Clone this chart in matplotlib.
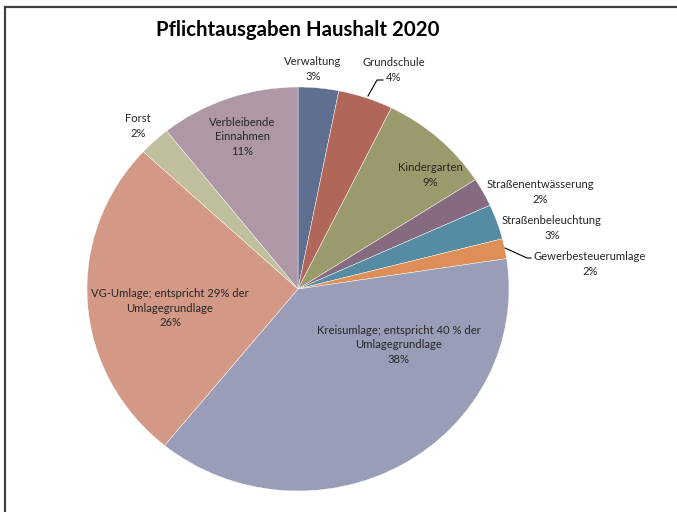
import matplotlib
matplotlib.use("Agg")
import matplotlib.pyplot as plt
from matplotlib.lines import Line2D

plt.rcParams['font.family'] = ['Lato', 'DejaVu Sans']

# share of mandatory expenses (percent, clockwise from 12 o'clock)
names = ["Verwaltung", "Grundschule", "Kindergarten", "Straßenentwässerung",
         "Straßenbeleuchtung", "Gewerbesteuerumlage",
         "Kreisumlage; entspricht 40 % der\nUmlagegrundlage",
         "VG-Umlage; entspricht 29% der\nUmlagegrundlage",
         "Forst", "Verbleibende\nEinnahmen"]
values = [3.1, 4.2, 8.6, 2.3, 2.8, 1.6, 38.3, 26.0, 2.4, 10.7]
colors = ["#5E6F8F", "#B0675A", "#9B9A6C", "#866A80", "#558BA3",
          "#DE8F58", "#999DB8", "#D39986", "#BFBF9E", "#AE98A6"]

# label centres in pixels of the 677x512 picture
label_px = [(313, 69), (394, 70), (430, 175), (540, 192), (552, 228),
            (590, 264), (399, 345), (170, 308), (138, 126), (242, 137)]

W, H = 677, 512
cx, cy, rx, ry = 298, 289, 211, 202

fig = plt.figure(figsize=(W / 100, H / 100), dpi=100)
ax = fig.add_axes([(cx - rx) / W, (H - cy - ry) / H, 2 * rx / W, 2 * ry / H])

ax.pie(values, colors=colors, startangle=90, counterclock=False,
       wedgeprops=dict(edgecolor="white", linewidth=0.3))
ax.set_aspect("auto")
ax.set_xlim(-1, 1)
ax.set_ylim(-1, 1)

total = sum(values)
for name, v, (px, py) in zip(names, values, label_px):
    x = (px - cx) / rx
    y = (cy - py) / ry
    ax.text(x, y, f"{name}\n{round(v / total * 100)}%", ha="center", va="center",
            fontsize=8.1, color="#262626", linespacing=1.4, clip_on=False)

# leader lines for the two small outside labels
def px2d(px, py):
    return (px - cx) / rx, (cy - py) / ry

for pts in [[(383, 80), (377, 80), (368, 96)], [(531, 258), (527, 258), (505, 248)]]:
    d = [px2d(*p) for p in pts]
    ax.plot([p[0] for p in d], [p[1] for p in d], color="black", lw=0.8, clip_on=False)

fig.text(298 / W, 1 - 30 / H, "Pflichtausgaben Haushalt 2020", ha="center", va="center",
         fontsize=14.7, fontweight="bold", color="black")

# chart frame (only top and left edges visible)
fig.add_artist(Line2D([5 / W, 1], [1 - 6.5 / H, 1 - 6.5 / H], color="#404040", lw=1.6))
fig.add_artist(Line2D([5 / W, 5 / W], [0, 1 - 6.5 / H], color="#404040", lw=1.6))

fig.savefig("out.png", dpi=100)
